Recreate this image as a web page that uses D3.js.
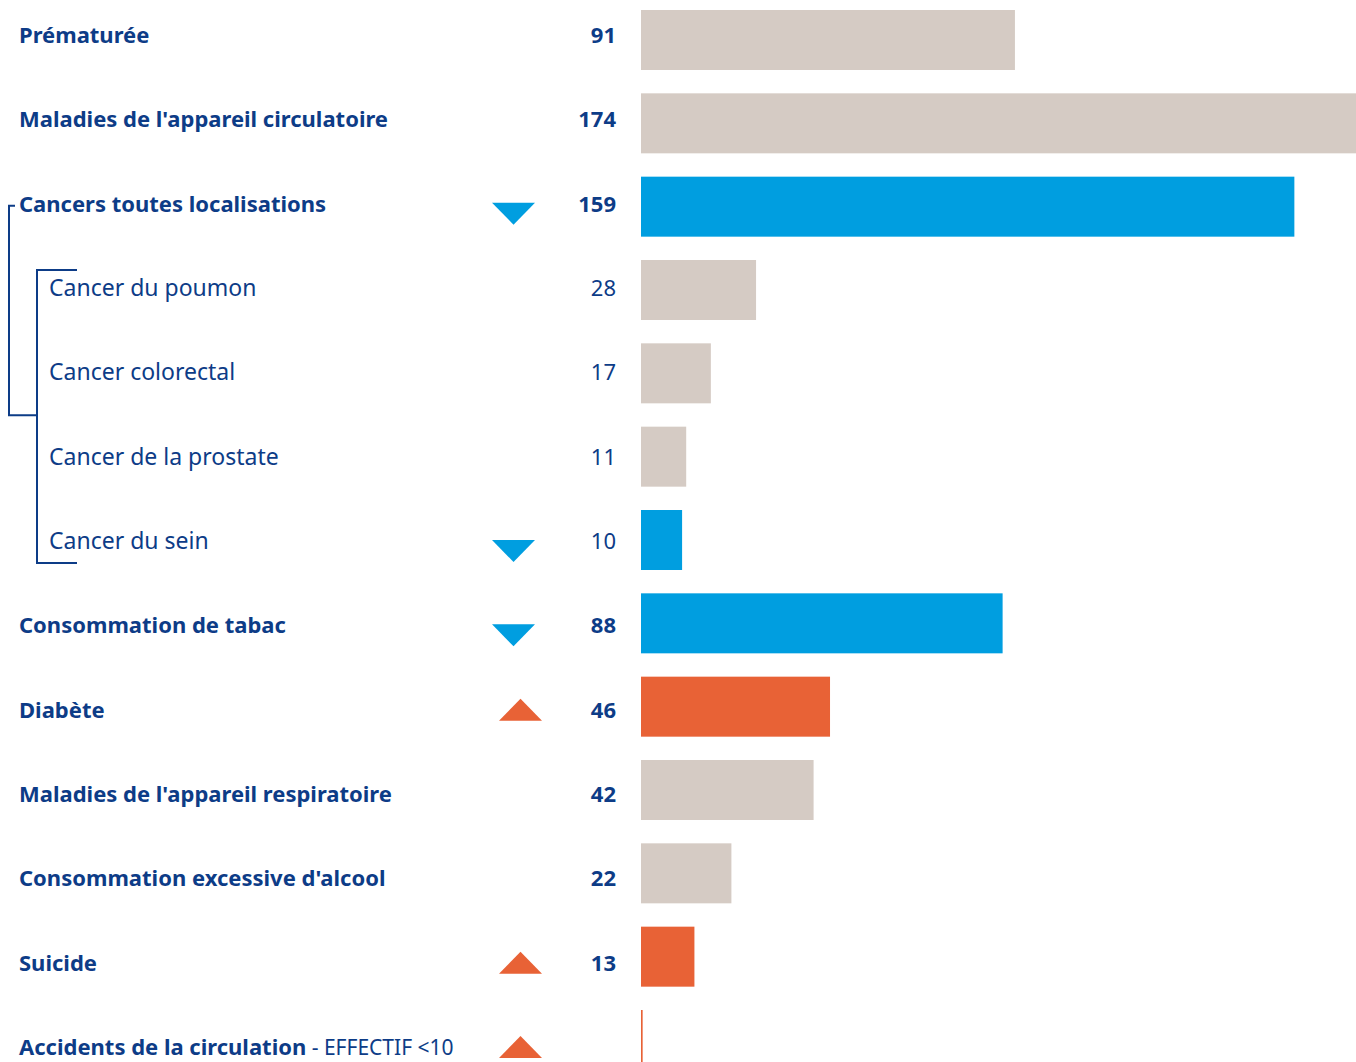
<!DOCTYPE html>
<html>
<head>
<meta charset="utf-8">
<script src="https://cdn.jsdelivr.net/npm/d3@7"></script>
<style>
  body { margin: 0; background: #fff; }
  svg text { font-family: 'Noto Sans', sans-serif; fill: #0d3c87; }
</style>
</head>
<body>
<div id="chart"></div>
<script>
(function() {
const width = 1356,
      height = 1062

// data
const labels = [
  'Prématurée',
  "Maladies de l'appareil circulatoire",
  'Cancers toutes localisations',
  'Cancer du poumon',
  'Cancer colorectal',
  'Cancer de la prostate',
  'Cancer du sein',
  'Consommation de tabac',
  'Diabète',
  "Maladies de l'appareil respiratoire",
  "Consommation excessive d'alcool",
  'Suicide',
  'Accidents de la circulation'
]
const values = [91, 174, 159, 28, 17, 11, 10, 88, 46, 42, 22, 13, 0.4]
const valueLabels = ['91', '174', '159', '28', '17', '11', '10', '88', '46', '42', '22', '13', '']
const isSub = [false, false, false, true, true, true, true, false, false, false, false, false, false]
// 'down' = sous-mortalité, 'up' = surmortalité, '' = non significatif
const trend = ['', '', 'down', '', '', '', 'down', 'down', 'up', '', '', 'up', 'up']
const notes = ['', '', '', '', '', '', '', '', '', '', '', '', ' - EFFECTIF <10']

const colors = { '': '#d5cbc4', down: '#009ee0', up: '#e86236' }

const svg = d3.select('#chart')
  .append('svg')
  .attr('width', width)
  .attr('height', height)

const x = d3.scaleLinear()
  .domain([0, 174])
  .range([641, 1356])

// bar rows and text rows
const y = d3.scalePoint()
  .domain(d3.range(labels.length))
  .range([40, 1040])

const yt = d3.scalePoint()
  .domain(d3.range(labels.length))
  .range([37, 1049])

svg.selectAll('.bar')
  .data(values)
  .enter().append('rect')
  .attr('class', 'bar')
  .attr('x', x(0))
  .attr('y', function(d, i) { return y(i) - 30 })
  .attr('height', 60)
  .attr('width', function(d) { return Math.max(1.5, x(d) - x(0)) })
  .attr('fill', function(d, i) { return colors[trend[i]] })

const rows = svg.selectAll('.row')
  .data(labels)
  .enter().append('g')
  .attr('class', 'row')
  .attr('transform', function(d, i) { return 'translate(0,' + yt(i) + ')' })

const lab = rows.append('text')
  .attr('x', function(d, i) { return isSub[i] ? 49 : 19 })
  .attr('y', 0)
  .attr('font-size', function(d, i) { return isSub[i] ? 23 : 22 })
  .attr('font-weight', function(d, i) { return isSub[i] ? 400 : 700 })
  .attr('dominant-baseline', 'middle')
  .text(function(d) { return d })

lab.filter(function(d, i) { return notes[i] })
  .append('tspan')
  .attr('font-weight', 400)
  .attr('font-size', 21)
  .text(function(d) { return notes[labels.indexOf(d)] })

rows.append('text')
  .attr('x', 616)
  .attr('y', 0)
  .attr('text-anchor', 'end')
  .attr('font-size', 22)
  .attr('font-weight', function(d, i) { return isSub[i] ? 400 : 700 })
  .attr('dominant-baseline', 'middle')
  .text(function(d, i) { return valueLabels[i] })

// trend markers
rows.filter(function(d, i) { return trend[i] === 'down' })
  .append('path')
  .attr('d', 'M492,-3 L535,-3 L513.5,19 Z')
  .attr('fill', colors.down)

rows.filter(function(d, i) { return trend[i] === 'up' })
  .append('path')
  .attr('d', 'M499,9 L542,9 L520.5,-13 Z')
  .attr('fill', colors.up)

// brackets for the cancer group
const bracket = svg.append('g')
  .attr('fill', 'none')
  .attr('stroke', '#0d3c87')
  .attr('stroke-width', 2)

bracket.append('path')
  .attr('d', 'M15,' + yt(2) + ' H9 V' + (yt(4) + 41) + ' H37')

bracket.append('path')
  .attr('d', 'M77,' + (yt(3) - 20) + ' H37 V' + (yt(6) + 20) + ' H77')

})()
</script>
</body>
</html>
